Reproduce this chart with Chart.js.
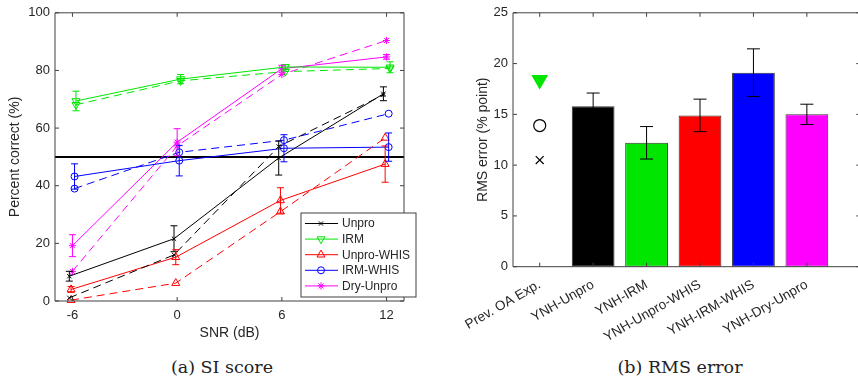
<!DOCTYPE html>
<html>
<head>
<meta charset="utf-8">
<script src="https://cdn.jsdelivr.net/npm/chart.js@4.4.1/dist/chart.umd.min.js"></script>
<style>
  html, body { margin: 0; padding: 0; background: #fff; overflow: hidden; }
  body { width: 858px; height: 379px; position: relative; }
  canvas { position: absolute; top: 0; }
  #si-chart { left: 0; }
  #rms-chart { left: 430px; }
  .caption {
    position: absolute; top: 357px; width: 300px; text-align: center;
    font: 17.5px "DejaVu Serif", serif; color: #222;
  }
</style>
</head>
<body>
<canvas id="si-chart" width="430" height="345"></canvas>
<canvas id="rms-chart" width="440" height="345"></canvas>
<div class="caption" style="left:72px">(a) SI score</div>
<div class="caption" style="left:530px">(b) RMS error</div>

<script>
// SNR conditions (dB)
const SNR = [-6, 0, 6, 12];
const SERIES = ['Unpro', 'IRM', 'Unpro-WHIS', 'IRM-WHIS', 'Dry-Unpro'];

// Listener scores, percent correct (solid lines)
const unproScore     = [8.6, 21.6, 49.6, 71.9];
const irmScore       = [69.4, 77.0, 81.2, 81.1];
const unproWhisScore = [4.0, 15.2, 34.9, 47.5];
const irmWhisScore   = [43.2, 48.7, 53.0, 53.4];
const dryUnproScore  = [19.2, 55.1, 80.6, 84.7];

// Standard error of listener scores
const unproErr     = [1.7, 4.5, 5.9, 2.4];
const irmErr       = [3.4, 1.6, 0.8, 1.9];
const unproWhisErr = [1.0, 2.6, 4.4, 6.3];
const irmWhisErr   = [4.4, 5.3, 4.7, 4.9];
const dryUnproErr  = [3.8, 4.7, 1.2, 0.8];

// Model predictions (dashed lines)
const unproPred     = [1.1, 16.0, 53.6, 71.5];
const irmPred       = [68.1, 76.4, 79.6, 80.7];
const unproWhisPred = [0.3, 6.2, 31.0, 56.6];
const irmWhisPred   = [39.0, 51.6, 55.8, 65.0];
const dryUnproPred  = [10.3, 53.8, 78.6, 90.4];

const REFERENCE_LEVEL = 50;

// RMS error of the predictions (% point)
const SYSTEMS = ['Prev. OA Exp.', 'YNH-Unpro', 'YNH-IRM', 'YNH-Unpro-WHIS', 'YNH-IRM-WHIS', 'YNH-Dry-Unpro'];
const rmsError = [15.8, 12.2, 14.9, 19.1, 15.0];
const rmsErrorSe = [1.3, 1.6, 1.6, 2.35, 1.0];
// previous experiment: IRM, IRM-WHIS, Unpro
const prevOaRms = [18.4, 13.9, 10.5];

// ---- styling ----
const AXIS_COLOR = '#404040';
const TEXT_COLOR = '#262626';
const GREEN = '#00e600';
const COLORS = ['#000000', GREEN, '#ff0000', '#0000ff', '#ff00ff'];
const MARKERS = ['crossRot', 'triangleDown', 'triangle', 'circle', 'star'];
const MARKER_SIZE = [3, 4.6, 4.6, 3.5, 3.6];
const DODGE = [-0.18, 0.2, -0.08, 0.12, 0];

const scores = [unproScore, irmScore, unproWhisScore, irmWhisScore, dryUnproScore];
const errors = [unproErr, irmErr, unproWhisErr, irmWhisErr, dryUnproErr];
const preds = [unproPred, irmPred, unproWhisPred, irmWhisPred, dryUnproPred];

const SANS = '"Liberation Sans", Arial, sans-serif';
const TICK_FONT = { family: SANS, size: 13 };
const TITLE_FONT = { family: SANS, size: 14 };

// Draw a marker by hand (used for the legend)
function drawMarker(ctx, style, x, y, r, color) {
    ctx.save();
    ctx.strokeStyle = color;
    ctx.lineWidth = 1;
    ctx.beginPath();
    if (style === 'circle') {
        ctx.arc(x, y, r, 0, Math.PI * 2);
    } else if (style === 'triangle' || style === 'triangleDown') {
        const s = style === 'triangle' ? -1 : 1;
        ctx.moveTo(x, y + s * r);
        ctx.lineTo(x - r * 0.866, y - s * r / 2);
        ctx.lineTo(x + r * 0.866, y - s * r / 2);
        ctx.closePath();
    } else {
        const d = r * 0.707;
        ctx.moveTo(x - d, y - d); ctx.lineTo(x + d, y + d);
        ctx.moveTo(x + d, y - d); ctx.lineTo(x - d, y + d);
        if (style === 'star') {
            ctx.moveTo(x, y - r); ctx.lineTo(x, y + r);
            ctx.moveTo(x - r, y); ctx.lineTo(x + r, y);
        }
    }
    ctx.stroke();
    ctx.restore();
}

// Box around the plot area with inward ticks on all four sides
const axesBox = {
    id: 'axesBox',
    afterDatasetsDraw(chart) {
        const { ctx, chartArea: a, scales: { x, y } } = chart;
        const len = 4;
        ctx.save();
        ctx.strokeStyle = AXIS_COLOR;
        ctx.lineWidth = 1;
        ctx.beginPath();
        x.ticks.forEach(t => {
            const px = x.getPixelForValue(t.value);
            ctx.moveTo(px, a.bottom); ctx.lineTo(px, a.bottom - len);
            ctx.moveTo(px, a.top); ctx.lineTo(px, a.top + len);
        });
        y.ticks.forEach(t => {
            const py = y.getPixelForValue(t.value);
            ctx.moveTo(a.left, py); ctx.lineTo(a.left + len, py);
            ctx.moveTo(a.right, py); ctx.lineTo(a.right - len, py);
        });
        ctx.rect(a.left, a.top, a.right - a.left, a.bottom - a.top);
        ctx.stroke();
        ctx.restore();
    }
};

// Error bars on the listener scores
const scoreErrorBars = {
    id: 'scoreErrorBars',
    afterDatasetsDraw(chart) {
        const { ctx, scales: { x, y } } = chart;
        ctx.save();
        ctx.lineWidth = 1;
        scores.forEach((vals, i) => {
            ctx.strokeStyle = COLORS[i];
            ctx.beginPath();
            vals.forEach((v, j) => {
                const px = x.getPixelForValue(SNR[j] + DODGE[i]);
                const hi = y.getPixelForValue(v + errors[i][j]);
                const lo = y.getPixelForValue(v - errors[i][j]);
                ctx.moveTo(px, hi); ctx.lineTo(px, lo);
                ctx.moveTo(px - 3.5, hi); ctx.lineTo(px + 3.5, hi);
                ctx.moveTo(px - 3.5, lo); ctx.lineTo(px + 3.5, lo);
            });
            ctx.stroke();
        });
        ctx.restore();
    }
};

// Legend box in the lower right corner
const scoreLegend = {
    id: 'scoreLegend',
    afterDraw(chart) {
        const { ctx, chartArea: a } = chart;
        const left = a.right - 103, top = a.bottom - 88;
        ctx.save();
        ctx.fillStyle = '#fff';
        ctx.fillRect(left, top, 115, 84);
        ctx.strokeStyle = AXIS_COLOR;
        ctx.lineWidth = 1;
        ctx.strokeRect(left, top, 115, 84);
        ctx.font = '12px ' + SANS;
        ctx.textBaseline = 'middle';
        SERIES.forEach((name, i) => {
            const cy = top + 10.5 + i * 15.6;
            ctx.strokeStyle = COLORS[i];
            ctx.beginPath();
            ctx.moveTo(left + 4, cy); ctx.lineTo(left + 37, cy);
            ctx.stroke();
            drawMarker(ctx, MARKERS[i], left + 20, cy, MARKER_SIZE[i], COLORS[i]);
            ctx.fillStyle = TEXT_COLOR;
            ctx.fillText(name, left + 41, cy + 0.5);
        });
        ctx.restore();
    }
};

function pointStyleOf(i) {
    return MARKERS[i] === 'triangleDown' ? 'triangle' : MARKERS[i];
}

const scoreDatasets = [];
SERIES.forEach((name, i) => {
    const common = {
        borderColor: COLORS[i],
        backgroundColor: 'rgba(0,0,0,0)',
        borderWidth: 1,
        pointStyle: pointStyleOf(i),
        rotation: MARKERS[i] === 'triangleDown' ? 180 : 0,
        pointRadius: MARKER_SIZE[i],
        pointBorderColor: COLORS[i],
        pointBorderWidth: 1,
        tension: 0,
        clip: false
    };
    scoreDatasets.push(Object.assign({
        label: name,
        data: scores[i].map((v, j) => ({ x: SNR[j] + DODGE[i], y: v }))
    }, common));
    scoreDatasets.push(Object.assign({
        label: name + ' (model)',
        data: preds[i].map((v, j) => ({ x: SNR[j] + DODGE[i], y: v })),
        borderDash: [8, 5]
    }, common));
});
scoreDatasets.push({
    label: 'reference',
    data: [{ x: -7, y: REFERENCE_LEVEL }, { x: 13, y: REFERENCE_LEVEL }],
    borderColor: '#000',
    borderWidth: 2,
    pointRadius: 0
});

new Chart(document.getElementById('si-chart'), {
    type: 'line',
    data: { datasets: scoreDatasets },
    plugins: [axesBox, scoreErrorBars, scoreLegend],
    options: {
        responsive: false,
        animation: false,
        devicePixelRatio: 1,
        layout: { padding: { top: 9.3, right: 26, left: 0, bottom: 0 } },
        plugins: { legend: { display: false }, tooltip: { enabled: false } },
        scales: {
            x: {
                type: 'linear',
                min: -7, max: 13,
                afterBuildTicks: s => { s.ticks = SNR.map(v => ({ value: v })); },
                afterFit: s => { s.height = 44; },
                grid: { display: false, drawTicks: false },
                border: { display: false },
                ticks: { font: TICK_FONT, color: TEXT_COLOR, padding: 7 },
                title: { display: true, text: 'SNR (dB)', font: TITLE_FONT, color: TEXT_COLOR, padding: { top: 0, bottom: 3.6 } }
            },
            y: {
                min: 0, max: 100,
                afterFit: s => { s.width = 55; },
                grid: { display: false, drawTicks: false },
                border: { display: false },
                ticks: { stepSize: 20, font: TICK_FONT, color: TEXT_COLOR, padding: 5 },
                title: { display: true, text: 'Percent correct (%)', font: TITLE_FONT, color: TEXT_COLOR, padding: { top: 6.6, bottom: 0 } }
            }
        }
    }
});

// ---- RMS error panel ----
const rmsErrorBars = {
    id: 'rmsErrorBars',
    afterDatasetsDraw(chart) {
        const { ctx, scales: { x, y } } = chart;
        ctx.save();
        ctx.strokeStyle = '#000';
        ctx.lineWidth = 1;
        ctx.beginPath();
        rmsError.forEach((v, i) => {
            const px = x.getPixelForValue(i + 1);
            const hi = y.getPixelForValue(v + rmsErrorSe[i]);
            const lo = y.getPixelForValue(v - rmsErrorSe[i]);
            ctx.moveTo(px, hi); ctx.lineTo(px, lo);
            ctx.moveTo(px - 6.5, hi); ctx.lineTo(px + 6.5, hi);
            ctx.moveTo(px - 6.5, lo); ctx.lineTo(px + 6.5, lo);
        });
        ctx.stroke();
        ctx.restore();
    }
};

new Chart(document.getElementById('rms-chart'), {
    type: 'bar',
    data: {
        datasets: [
            {
                type: 'bar',
                label: 'RMS error',
                data: rmsError.map((v, i) => ({ x: i + 1, y: v })),
                backgroundColor: COLORS,
                borderColor: '#303030',
                borderWidth: 1,
                borderSkipped: false,
                categoryPercentage: 0.8,
                barPercentage: 1
            },
            {
                type: 'line',
                label: SYSTEMS[0],
                data: prevOaRms.map(v => ({ x: 0, y: v })),
                showLine: false,
                pointStyle: ['triangle', 'circle', 'crossRot'],
                rotation: [180, 0, 0],
                pointRadius: [8.5, 6, 5.6],
                pointBackgroundColor: [GREEN, 'rgba(0,0,0,0)', 'rgba(0,0,0,0)'],
                pointBorderColor: [GREEN, '#000', '#000'],
                pointBorderWidth: 1.2,
                clip: false
            }
        ]
    },
    plugins: [rmsErrorBars, axesBox],
    options: {
        responsive: false,
        animation: false,
        devicePixelRatio: 1,
        layout: { padding: { top: 9.3, right: 9.25, left: 0, bottom: 0 } },
        plugins: { legend: { display: false }, tooltip: { enabled: false } },
        scales: {
            x: {
                type: 'linear',
                min: -0.5, max: 6,
                offset: false,
                afterBuildTicks: s => { s.ticks = SYSTEMS.map((_, i) => ({ value: i })); },
                afterFit: s => { s.height = 78.3; },
                grid: { display: false, drawTicks: false, offset: false },
                border: { display: false },
                ticks: {
                    font: { family: SANS, size: 13.5 }, color: TEXT_COLOR, padding: 10,
                    autoSkip: false, minRotation: 30, maxRotation: 30,
                    callback: v => SYSTEMS[v]
                }
            },
            y: {
                min: 0, max: 25,
                afterFit: s => { s.width = 83; },
                grid: { display: false, drawTicks: false },
                border: { display: false },
                ticks: { stepSize: 5, font: TICK_FONT, color: TEXT_COLOR, padding: 5 },
                title: { display: true, text: 'RMS error (% point)', font: TITLE_FONT, color: TEXT_COLOR, padding: { top: 44.3, bottom: 0 } }
            }
        }
    }
});
</script>
</body>
</html>
